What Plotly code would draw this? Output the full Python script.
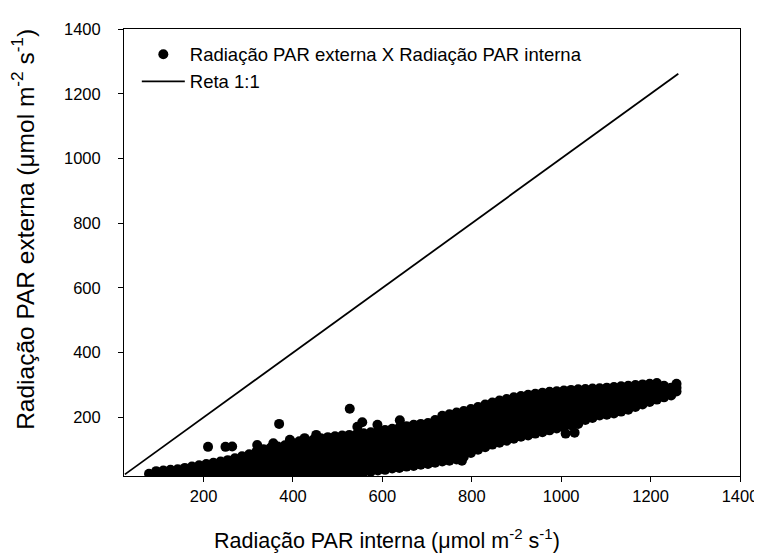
import plotly.graph_objects as go

# PAR interna (x) column positions and PAR externa (y) values read per column
interna_colunas = [78, 94, 110, 126, 142, 158, 174, 190, 206, 222, 238, 254, 270, 286, 302, 318,
                   334, 350, 366, 382, 398, 414, 430, 446, 462, 478, 494, 510, 526, 542, 558, 574,
                   590, 606, 622, 638, 654, 670, 686, 702, 718, 734, 750, 766, 782, 798, 814, 830,
                   846, 862, 878, 894, 910, 926, 942, 958, 974, 990, 1006, 1022, 1038, 1054, 1070,
                   1086, 1102, 1118, 1134, 1150, 1166, 1182, 1198, 1214, 1230, 1246, 1258]
externa_colunas = [
    [26], [26, 34], [25, 36], [27, 38], [26, 40], [25, 44], [27, 48],
    [26, 40, 52], [25, 41, 56], [27, 44, 60], [26, 45, 64], [25, 42, 58, 68],
    [27, 44, 60, 74], [26, 44, 62, 80], [25, 43, 61, 78, 86], [27, 45, 63, 80, 94],
    [26, 44, 62, 80, 96, 102], [25, 43, 61, 79, 96, 106], [27, 45, 63, 81, 98, 110],
    [26, 44, 62, 80, 98, 114], [25, 43, 61, 79, 97, 112, 122], [27, 45, 63, 81, 99, 115, 126],
    [26, 44, 62, 80, 98, 114, 128], [25, 43, 61, 79, 97, 115, 132], [27, 45, 63, 81, 99, 117, 136],
    [26, 44, 62, 80, 98, 116, 132, 139], [25, 43, 61, 79, 97, 115, 131, 142],
    [27, 45, 63, 81, 99, 117, 133, 144], [26, 44, 62, 80, 98, 116, 134, 146],
    [28, 46, 64, 82, 100, 118, 136, 148], [30, 48, 66, 84, 102, 120, 138, 151],
    [32, 50, 68, 86, 104, 122, 140, 154], [36, 54, 72, 90, 108, 126, 142, 157],
    [38, 56, 74, 92, 110, 128, 146, 161], [42, 60, 78, 96, 114, 132, 150, 165],
    [44, 62, 80, 98, 116, 134, 152, 169], [48, 66, 84, 102, 120, 138, 156, 173],
    [50, 68, 86, 104, 122, 140, 158, 177], [54, 72, 90, 108, 126, 144, 162, 180],
    [56, 74, 92, 110, 128, 146, 164, 183], [60, 80, 100, 120, 140, 160, 178, 192],
    [64, 84, 104, 124, 144, 164, 184, 198, 205], [66, 86, 106, 126, 146, 166, 186, 204, 210],
    [70, 90, 110, 130, 150, 170, 190, 206, 215], [78, 98, 118, 138, 158, 178, 198, 220],
    [90, 110, 130, 150, 170, 190, 210, 226], [100, 120, 140, 160, 180, 200, 218, 232],
    [108, 128, 148, 168, 188, 206, 224, 240], [116, 136, 156, 176, 194, 212, 230, 246],
    [122, 142, 162, 182, 200, 218, 236, 252], [128, 148, 168, 186, 204, 222, 240, 257],
    [134, 154, 172, 190, 208, 226, 244, 262], [140, 158, 176, 194, 212, 230, 248, 266],
    [144, 162, 180, 198, 216, 234, 252, 270], [150, 168, 186, 204, 222, 240, 258, 273],
    [154, 172, 190, 208, 226, 244, 262, 276], [160, 178, 196, 214, 232, 250, 266, 279],
    [166, 184, 202, 220, 238, 254, 268, 281], [170, 188, 206, 224, 240, 256, 270, 283],
    [176, 194, 212, 230, 246, 260, 274, 285], [180, 198, 216, 232, 248, 262, 276, 287],
    [192, 210, 226, 242, 258, 272, 288], [198, 214, 230, 246, 262, 276, 289],
    [206, 222, 238, 254, 268, 280, 290], [208, 224, 240, 256, 270, 282, 292],
    [212, 228, 244, 258, 272, 284, 294], [218, 234, 250, 264, 276, 288, 296],
    [224, 240, 254, 268, 280, 290, 298], [232, 246, 260, 274, 288, 300],
    [240, 254, 268, 282, 294, 302], [248, 262, 276, 290, 304],
    [255, 270, 286, 300, 306], [262, 276, 290, 298], [268, 282, 292], [280, 292, 304],
]
# isolated points and edge points
interna_extra = [210, 249, 264, 369, 527, 555, 544, 589, 639, 778, 320, 356, 393, 426, 452, 1010, 1030]
externa_extra = [109, 109, 110, 180, 227, 185, 171, 177, 191, 66, 115, 120, 131, 136, 146, 150, 153]

# 1:1 line end points
reta_11 = [24, 1262]

x_ticks = [200, 400, 600, 800, 1000, 1200, 1400]
y_ticks = [200, 400, 600, 800, 1000, 1200, 1400]

px_x, px_y = [], []
for xv, ys in zip(interna_colunas, externa_colunas):
    for yv in ys:
        px_x.append(xv)
        px_y.append(yv)
px_x += interna_extra
px_y += externa_extra

FONT = "Liberation Sans, Arial, sans-serif"

fig = go.Figure()
fig.add_trace(go.Scatter(
    x=px_x, y=px_y, mode="markers",
    marker=dict(color="black", size=10, line=dict(width=0)),
    name="Radiação PAR externa X Radiação PAR interna",
))
fig.add_trace(go.Scatter(
    x=reta_11, y=reta_11, mode="lines",
    line=dict(color="black", width=1.8),
    name="Reta 1:1",
))

axis_common = dict(
    showline=True, linecolor="black", linewidth=1, mirror=True,
    ticks="outside", ticklen=5, tickwidth=1, tickcolor="black",
    showgrid=False, zeroline=False,
    tickfont=dict(family=FONT, size=16.5, color="black"),
)

fig.update_layout(
    width=762, height=556,
    margin=dict(l=116, r=20, t=17, b=88),
    paper_bgcolor="white", plot_bgcolor="white",
    font=dict(family=FONT, color="black"),
    xaxis=dict(
        range=[22, 1400], tickvals=x_ticks, ticktext=[str(v) for v in x_ticks],
        ticklabelstandoff=0,
        **axis_common,
    ),
    yaxis=dict(
        range=[19, 1400], tickvals=y_ticks, ticktext=[str(v) for v in y_ticks],
        ticklabelstandoff=14,
        **axis_common,
    ),
    showlegend=True,
    legend=dict(
        x=0.0208, y=0.985, xanchor="left", yanchor="top",
        bgcolor="rgba(0,0,0,0)", borderwidth=0,
        font=dict(family=FONT, size=18.5, color="black"),
        itemwidth=43,
    ),
    annotations=[
        dict(text="Radiação PAR interna (μmol m<sup>-2</sup> s<sup>-1</sup>)",
             xref="paper", yref="paper", x=0.4265, y=-0.14,
             xanchor="center", yanchor="middle", showarrow=False,
             font=dict(family=FONT, size=21.5, color="black")),
        dict(text="Radiação PAR externa (μmol m<sup>-2</sup> s<sup>-1</sup>)",
             xref="paper", yref="paper", x=-0.1646, y=0.552,
             xanchor="center", yanchor="middle", showarrow=False, textangle=-90,
             font=dict(family=FONT, size=24.5, color="black")),
    ],
)

fig.write_html("out.html")
